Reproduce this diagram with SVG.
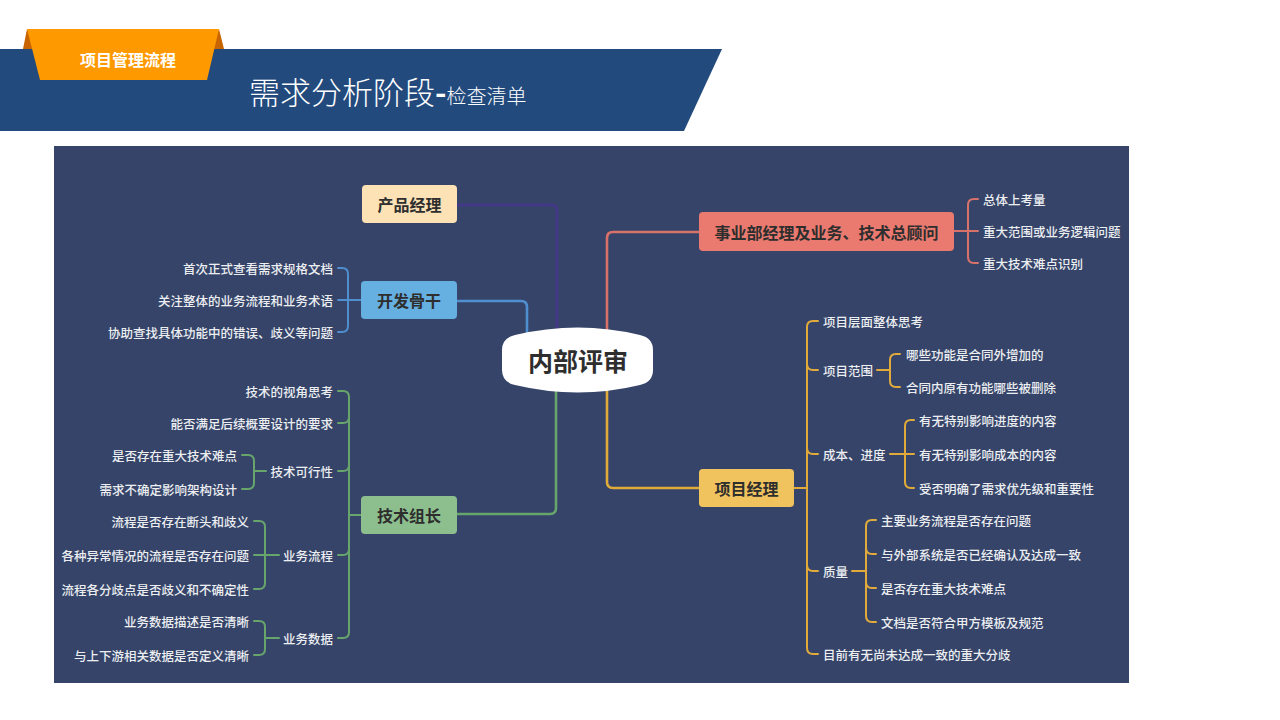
<svg xmlns="http://www.w3.org/2000/svg" width="1280" height="720" viewBox="0 0 1280 720">
<style>
text{font-family:"Noto Sans CJK SC","Noto Sans",sans-serif}
.item{font-size:12.5px;fill:#eceef2;dominant-baseline:central;font-weight:500}
.r{text-anchor:end}
.node{font-size:16px;font-weight:bold;fill:#2e2e2e;text-anchor:middle;dominant-baseline:central}
.ln{fill:none;stroke-width:2;stroke-linecap:round}
.red{stroke:#d9716b}
.gold{stroke:#e1ab3c}
.green{stroke:#67a56c}
.blue{stroke:#4f8fd0}
.purple{stroke:#45388c}
.main{stroke-width:2.6}
</style>
<rect width="1280" height="720" fill="#ffffff"/>
<g id="header">
<polygon points="0,49 722,49 684,131 0,131" fill="#224a7d"/>
<polygon points="27,29 23,49 40,49" fill="#c86400"/>
<polygon points="219,29 224,49 210,49" fill="#c86400"/>
<polygon points="27,29 219,29 207,80 40,80" fill="#fe9900"/>
<text x="128" y="59" font-size="16" font-weight="bold" fill="#ffffff" text-anchor="middle" dominant-baseline="central">项目管理流程</text>
<text x="249" y="104" fill="#ffffff" font-weight="300"><tspan font-size="31">需求分析阶段</tspan><tspan font-size="31" font-weight="bold">-</tspan><tspan font-size="20">检查清单</tspan></text>
</g>
<rect id="panel" x="54" y="146" width="1075" height="537" fill="#354468"/>
<g id="connectors">
<path class="ln main purple" d="M457,205 H551 Q557,205 557,211 V340"/>
<path class="ln main blue" d="M457,301 H521 Q527,301 527,307 V340"/>
<path class="ln main red" d="M699,232 H613 Q607,232 607,238 V340"/>
<path class="ln main green" d="M457,514 H550 Q556,514 556,508 V380"/>
<path class="ln main gold" d="M699,488 H613 Q607,488 607,482 V380"/>
<path class="ln red" d="M954,231 H978"/>
<path class="ln red" d="M978,199 H974 Q968,199 968,205 V257 Q968,263 974,263 H978"/>
<path class="ln gold" d="M794,488 H807"/>
<path class="ln gold" d="M818,321 H813 Q807,321 807,327 V648 Q807,654 813,654 H818"/>
<path class="ln gold" d="M807,364 Q807,370 813,370 H818"/>
<path class="ln gold" d="M807,448 Q807,454 813,454 H818"/>
<path class="ln gold" d="M807,565 Q807,571 813,571 H818"/>
<path class="ln gold" d="M877,370 H890"/>
<path class="ln gold" d="M900,354 H896 Q890,354 890,360 V381 Q890,387 896,387 H900"/>
<path class="ln gold" d="M890,454 H914"/>
<path class="ln gold" d="M914,420 H911 Q905,420 905,426 V482 Q905,488 911,488 H914"/>
<path class="ln gold" d="M852,571 H866"/>
<path class="ln gold" d="M876,520 H872 Q866,520 866,526 V616 Q866,622 872,622 H876"/>
<path class="ln gold" d="M866,548 Q866,554 872,554 H876"/>
<path class="ln gold" d="M866,582 Q866,588 872,588 H876"/>
<path class="ln blue" d="M361,300 H338"/>
<path class="ln blue" d="M338,268 H342 Q348,268 348,274 V326 Q348,332 342,332 H338"/>
<path class="ln green" d="M361,515 H349"/>
<path class="ln green" d="M338,391 H343 Q349,391 349,397 V632 Q349,638 343,638 H338"/>
<path class="ln green" d="M349,417 Q349,423 343,423 H338"/>
<path class="ln green" d="M349,465 Q349,471 343,471 H338"/>
<path class="ln green" d="M349,549 Q349,555 343,555 H338"/>
<path class="ln green" d="M266,471 H254"/>
<path class="ln green" d="M242,455 H248 Q254,455 254,461 V483 Q254,489 248,489 H242"/>
<path class="ln green" d="M279,555 H254"/>
<path class="ln green" d="M254,521 H259 Q265,521 265,527 V583 Q265,589 259,589 H254"/>
<path class="ln green" d="M279,638 H265"/>
<path class="ln green" d="M254,621 H259 Q265,621 265,627 V649 Q265,655 259,655 H254"/>
</g>
<g id="center">
<path d="M515,335 Q578,320 640,335 Q653,338 653,350 V370 Q653,382 640,385 Q578,400 515,385 Q502,382 502,370 V350 Q502,338 515,335 Z" fill="#ffffff"/>
<text x="578" y="360" font-size="25" font-weight="bold" fill="#2e2e2e" text-anchor="middle" dominant-baseline="central">内部评审</text>
</g>
<g id="node-pm">
<rect x="362" y="185" width="95" height="38" rx="4" fill="#fde2b6"/>
<text class="node" x="409.5" y="204">产品经理</text>
</g>
<g id="node-dev">
<rect x="361" y="281" width="96" height="38" rx="4" fill="#66afe1"/>
<text class="node" x="409" y="300">开发骨干</text>
<text class="item r" x="333" y="268">首次正式查看需求规格文档</text>
<text class="item r" x="333" y="300">关注整体的业务流程和业务术语</text>
<text class="item r" x="333" y="332">协助查找具体功能中的错误、歧义等问题</text>
</g>
<g id="node-tech">
<rect x="361" y="496" width="96" height="38" rx="4" fill="#8dbf8e"/>
<text class="node" x="409" y="515">技术组长</text>
<text class="item r" x="333" y="391">技术的视角思考</text>
<text class="item r" x="333" y="423">能否满足后续概要设计的要求</text>
<text class="item r" x="333" y="471">技术可行性</text>
<text class="item r" x="237" y="455">是否存在重大技术难点</text>
<text class="item r" x="237" y="489">需求不确定影响架构设计</text>
<text class="item r" x="333" y="555">业务流程</text>
<text class="item r" x="249" y="521">流程是否存在断头和歧义</text>
<text class="item r" x="249" y="555">各种异常情况的流程是否存在问题</text>
<text class="item r" x="249" y="589">流程各分歧点是否歧义和不确定性</text>
<text class="item r" x="333" y="638">业务数据</text>
<text class="item r" x="249" y="621">业务数据描述是否清晰</text>
<text class="item r" x="249" y="655">与上下游相关数据是否定义清晰</text>
</g>
<g id="node-biz">
<rect x="699" y="212" width="255" height="39" rx="4" fill="#ea7a6f"/>
<text class="node" x="826.5" y="231.5">事业部经理及业务、技术总顾问</text>
<text class="item" x="983" y="199">总体上考量</text>
<text class="item" x="983" y="231">重大范围或业务逻辑问题</text>
<text class="item" x="983" y="263">重大技术难点识别</text>
</g>
<g id="node-proj">
<rect x="699" y="469" width="95" height="38" rx="4" fill="#f1c35f"/>
<text class="node" x="746.5" y="488">项目经理</text>
<text class="item" x="823" y="321">项目层面整体思考</text>
<text class="item" x="823" y="370">项目范围</text>
<text class="item" x="906" y="354">哪些功能是合同外增加的</text>
<text class="item" x="906" y="387">合同内原有功能哪些被删除</text>
<text class="item" x="823" y="454">成本、进度</text>
<text class="item" x="919" y="420">有无特别影响进度的内容</text>
<text class="item" x="919" y="454">有无特别影响成本的内容</text>
<text class="item" x="919" y="488">受否明确了需求优先级和重要性</text>
<text class="item" x="823" y="571">质量</text>
<text class="item" x="881" y="520">主要业务流程是否存在问题</text>
<text class="item" x="881" y="554">与外部系统是否已经确认及达成一致</text>
<text class="item" x="881" y="588">是否存在重大技术难点</text>
<text class="item" x="881" y="622">文档是否符合甲方模板及规范</text>
<text class="item" x="823" y="654">目前有无尚未达成一致的重大分歧</text>
</g>
</svg>
